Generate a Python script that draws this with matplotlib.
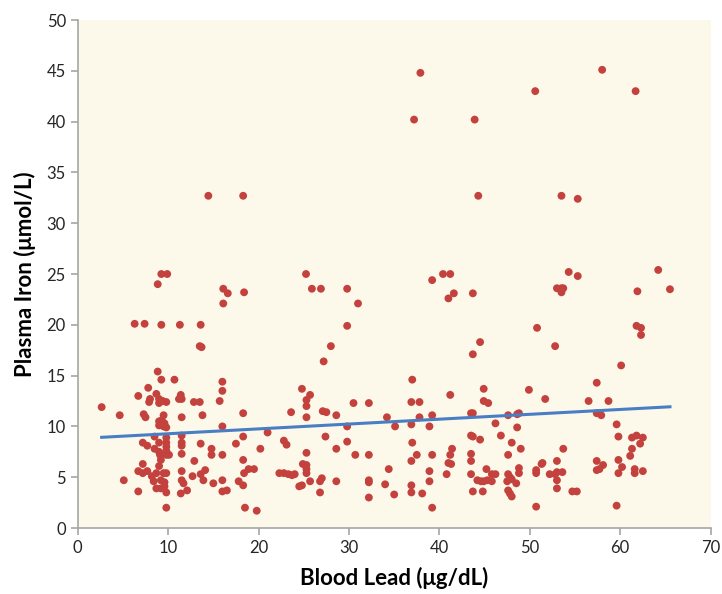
import numpy as np
import matplotlib.pyplot as plt

plt.rcParams['font.family'] = ['Lato', 'DejaVu Sans']

# blood lead (ug/dL) and plasma iron (umol/L)
blood_lead = [
    # 0-20
    16.1, 6.3, 7.4, 9.25, 11.3, 13.6, 13.5, 13.7, 8.85, 9.25, 10.7, 16.0, 16.0,
    7.8, 6.7, 8.7, 8.0, 7.9, 9.0, 9.4, 9.8, 9.0, 11.4, 11.5, 11.2, 12.85, 13.5, 15.7,
    2.65, 4.65, 7.3, 7.5, 9.5, 11.5, 13.8, 18.3, 16.0, 18.3,
    9.0, 9.3, 9.6, 9.0, 9.5, 9.8, 9.2,
    8.5, 7.2, 7.7, 9.0, 9.8, 8.5, 9.0, 9.8, 9.8, 9.8, 9.8,
    11.5, 11.5, 11.5, 11.5, 13.6, 14.8, 14.8, 16.0, 17.5, 18.3, 10.1, 9.1, 9.2,
    7.2, 6.7, 7.2, 7.7, 8.2, 8.7, 9.0, 9.5, 9.8, 9.2, 9.6, 8.7, 9.2, 9.6, 9.8, 8.4,
    5.1, 6.7, 11.5, 11.5, 11.7, 11.4, 12.1, 12.9, 12.7, 13.6, 14.1, 13.9, 15.0,
    16.0, 16.0, 16.5, 17.8, 18.3, 18.4, 18.9, 19.5, 9.8, 18.5, 19.8,
    14.45, 18.3, 9.25, 9.9, 8.85, 16.1, 16.6, 18.4,
    # 20-40
    31.0, 29.8, 28.0, 27.2, 24.8, 25.7, 25.3, 25.3, 25.3, 23.6, 27.1, 27.5, 28.6,
    30.5, 32.2, 29.8, 34.2, 35.1, 36.9, 37.8, 37.0, 36.9, 37.8, 38.9,
    21.0, 20.2, 22.8, 23.1, 27.4, 29.8, 28.6, 25.3, 30.7, 32.2, 37.0, 37.5, 36.9,
    22.3, 22.8, 23.3, 23.7, 24.0, 24.9, 25.3, 25.3, 25.3,
    24.8, 24.5, 25.7, 26.8, 27.0, 26.8, 28.6, 32.2, 32.2, 32.2, 34.4, 34.0, 35.0,
    36.9, 36.9, 38.1, 38.9, 38.9,
    25.25, 25.9, 26.9, 29.8,
    # 40-66
    50.8, 52.8, 44.5, 43.7, 57.4, 44.9, 49.9, 51.7, 41.2, 44.9, 45.4, 56.5,
    39.2, 43.5, 43.7, 47.6, 48.6, 48.8, 57.4, 46.2, 48.6, 46.8, 43.5, 43.7, 44.5,
    48.0, 49.0, 41.4, 41.2, 41.0, 41.3, 39.2, 43.5, 43.5, 47.6, 53.7, 53.0, 51.4,
    40.8, 43.5, 45.2, 44.2, 44.6, 44.9, 45.3, 45.8, 46.2, 45.8, 47.6, 47.8, 47.5,
    48.0, 48.5, 48.8, 48.8, 50.7, 50.7, 51.3, 52.2, 52.8, 53.0, 53.6, 53.0, 53.0,
    43.7, 44.8, 47.6, 47.8, 48.0, 50.7, 39.2, 54.7, 55.2, 57.4, 57.4,
    61.8, 62.3, 62.3, 60.1, 58.7, 57.9, 59.6, 59.8, 61.3, 61.8, 62.5, 62.2, 61.3,
    61.1, 59.8, 60.2, 59.8, 61.6, 61.6, 62.5, 57.7, 58.1, 59.6,
    37.9, 50.6, 58.0, 61.7, 37.2, 43.9, 44.3, 53.5, 55.3, 40.4, 41.2, 39.2, 41.6,
    41.0, 43.7, 54.3, 55.3, 53.0, 53.5, 53.7, 53.5, 61.9, 64.2, 65.5,
]
plasma_iron = [
    # 0-20
    22.1, 20.1, 20.1, 20.0, 20.0, 20.0, 17.9, 17.8, 15.4, 14.6, 14.6, 14.4, 13.5,
    13.8, 13.0, 13.2, 12.7, 12.4, 12.7, 12.5, 12.4, 12.3, 13.1, 12.7, 12.7, 12.4, 12.4, 12.5,
    11.9, 11.1, 11.2, 10.9, 11.1, 10.9, 11.1, 11.3, 10.0, 9.0,
    10.5, 10.6, 10.3, 10.1, 10.0, 9.9, 10.2,
    9.0, 8.4, 8.1, 8.4, 8.4, 7.8, 7.5, 8.9, 8.0, 7.6, 7.2,
    9.1, 8.4, 8.1, 7.3, 8.3, 7.8, 7.2, 7.2, 8.3, 6.7, 7.2, 7.2, 6.7,
    6.3, 5.6, 5.4, 5.6, 5.1, 5.4, 6.1, 5.4, 5.4, 4.7, 4.5, 3.9, 3.9, 4.1, 3.5, 4.6,
    4.7, 3.6, 5.6, 4.7, 4.4, 3.4, 3.7, 6.6, 5.1, 5.3, 5.7, 4.7, 4.4,
    4.7, 3.6, 3.7, 4.6, 4.2, 5.4, 5.8, 5.8, 2.0, 2.0, 1.7,
    32.7, 32.7, 25.0, 25.0, 24.0, 23.55, 23.1, 23.2,
    # 20-40
    22.1, 19.9, 17.9, 16.4, 13.7, 13.1, 12.6, 12.0, 10.9, 11.4, 11.5, 11.4, 11.1,
    12.3, 12.3, 10.0, 10.9, 10.0, 12.4, 12.4, 14.6, 10.2, 10.9, 10.0,
    9.4, 7.8, 8.6, 8.2, 9.0, 8.5, 7.8, 7.4, 7.2, 7.2, 8.4, 7.2, 6.6,
    5.4, 5.4, 5.3, 5.2, 5.3, 6.3, 6.2, 5.8, 5.4,
    4.2, 4.1, 4.6, 4.6, 4.9, 3.5, 4.6, 4.7, 4.5, 3.0, 5.8, 4.3, 3.3,
    4.2, 3.5, 3.4, 5.6, 4.6,
    25.0, 23.55, 23.55, 23.55,
    # 40-66
    19.7, 17.9, 18.3, 17.1, 14.3, 13.7, 13.6, 12.7, 13.1, 12.5, 12.3, 12.5,
    11.1, 11.3, 11.3, 11.1, 11.2, 11.3, 11.3, 10.3, 9.9, 9.1, 9.1, 9.0, 8.7,
    8.4, 7.8, 7.8, 7.2, 6.4, 6.3, 7.2, 7.3, 6.6, 7.2, 7.8, 6.6, 6.4,
    5.3, 5.3, 5.8, 4.7, 4.6, 4.6, 4.7, 5.3, 5.3, 4.6, 5.3, 5.0, 4.6,
    4.8, 4.4, 5.9, 5.4, 5.7, 5.4, 6.3, 5.3, 5.3, 5.5, 5.5, 4.7, 3.9,
    3.6, 3.6, 3.7, 3.4, 3.1, 2.1, 2.0, 3.6, 3.6, 6.6, 5.7,
    19.9, 19.7, 19.0, 16.0, 12.5, 11.1, 10.2, 9.0, 8.9, 9.1, 8.9, 8.3, 7.8,
    7.1, 6.7, 6.0, 5.4, 5.8, 5.4, 5.6, 5.8, 6.2, 2.2,
    44.8, 43.0, 45.1, 43.0, 40.2, 40.2, 32.7, 32.7, 32.4, 25.0, 25.0, 24.4, 23.1,
    22.6, 23.1, 25.2, 24.8, 23.6, 23.6, 23.6, 23.2, 23.3, 25.4, 23.5,
]

# linear trendline (Excel style)
trend_intercept = 8.80
trend_slope = 0.0478

x = np.array(blood_lead)
y = np.array(plasma_iron)

fig = plt.figure(figsize=(7.22, 5.94), dpi=100)
ax = fig.add_axes([0.1076, 0.1111, 0.8767, 0.8552])
ax.set_facecolor('#FCF9EB')

ax.scatter(x, y, s=32, color='#C4423E', edgecolors='none', zorder=3)

tx = np.array([x.min(), x.max()])
ax.plot(tx, trend_intercept + trend_slope * tx, color='#4A7EC4', lw=2.2, zorder=4)

ax.set_xlim(0, 70)
ax.set_ylim(0, 50)
ax.set_xticks(range(0, 71, 10))
ax.set_yticks(range(0, 51, 5))

for s in ['top', 'right']:
    ax.spines[s].set_visible(False)
for s in ['left', 'bottom']:
    ax.spines[s].set_color('#A6A6A6')
    ax.spines[s].set_linewidth(1.2)
ax.tick_params(direction='out', length=5, width=1.2, color='#A6A6A6',
               labelsize=12, labelcolor='#262626')

ax.set_xlabel('Blood Lead (μg/dL)', fontsize=16, fontweight='bold', labelpad=8)
ax.set_ylabel('Plasma Iron (μmol/L)', fontsize=16, fontweight='bold', labelpad=8)

fig.savefig('out.png', dpi=100)
